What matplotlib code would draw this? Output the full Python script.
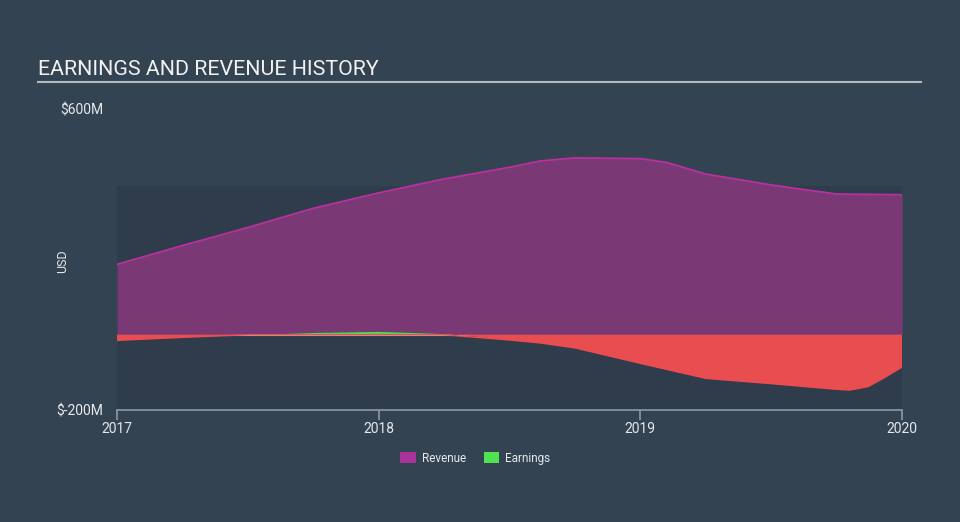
import matplotlib.pyplot as plt
from matplotlib.patches import Rectangle, Patch
import numpy as np

plt.rcParams['font.family'] = ['Roboto', 'DejaVu Sans']

# values in $M
rev_years = [2017.0, 2017.25, 2017.5, 2017.75, 2018.0, 2018.25, 2018.5, 2018.62,
             2018.75, 2019.0, 2019.1, 2019.25, 2019.5, 2019.75, 2020.0]
revenue = [187, 237, 285, 336, 377, 414, 445, 462, 470, 468, 458, 427, 398, 374, 372]

earn_years = [2017.0, 2017.25, 2017.5, 2017.75, 2018.0, 2018.25, 2018.5, 2018.62,
              2018.75, 2019.0, 2019.25, 2019.5, 2019.75, 2019.8, 2019.87, 2019.93, 2020.0]
earnings = [-15, -7, 0, 6, 9, 3, -14, -22, -35, -76, -116, -130, -145, -147, -138, -115, -86]

year_ticks = [2017, 2018, 2019, 2020]

bg = '#344352'
fig = plt.figure(figsize=(9.6, 5.22), dpi=100, facecolor=bg)
ax = fig.add_axes([0.1219, 0.2146, 0.8177, 0.5766])
ax.set_facecolor(bg)

ax.set_xlim(2017, 2020)
ax.set_ylim(-200, 600)

# darker plot band
ax.add_patch(Rectangle((2017, -200), 3, 596, facecolor='#2e3c4b', edgecolor='none', zorder=0))

ax.fill_between(rev_years, 0, revenue, color='#7a3874', lw=0, zorder=2)
ax.plot(rev_years, revenue, color='#b8329f', lw=1.3, zorder=3)

ax.plot([2017, 2020], [0, 0], color='#b9b9b9', lw=0.8, zorder=3)

e = np.array(earnings)
ax.fill_between(earn_years, 0, e, where=e >= 0, interpolate=True, color='#4cd94c', lw=0, zorder=4)
ax.fill_between(earn_years, 0, e, where=e <= 0, interpolate=True, color='#e84d50', lw=0, zorder=4)
ax.plot(earn_years, np.minimum(e, 0), color='#f04b55', lw=1.0, zorder=5)

for s in ['top', 'right', 'left']:
    ax.spines[s].set_visible(False)
ax.spines['bottom'].set_color('#8d99a6')
ax.spines['bottom'].set_linewidth(1.2)

ax.set_xticks(year_ticks)
ax.set_xticklabels([str(y) for y in year_ticks])
ax.tick_params(axis='x', colors='#8d99a6', length=7, width=1.2, labelcolor='#e6e8ea',
               labelsize=10, pad=2)
ax.set_yticks([600, -200])
ax.set_yticklabels(['$600M', '$-200M'])
ax.tick_params(axis='y', length=0, labelcolor='#e6e8ea', labelsize=10, pad=10)

fig.text(0.065, 0.50, 'USD', rotation=90, color='#e6e8ea', fontsize=9, ha='center', va='center')

fig.text(0.040, 0.856, 'EARNINGS AND REVENUE HISTORY', color='#f2f2f2', fontsize=15.4,
         ha='left', va='baseline')
fig.add_artist(plt.Line2D([0.040, 0.959], [0.843, 0.843], color='#b4b8bd', lw=1.5))

handles = [Patch(facecolor='#a8349a', label='Revenue'),
           Patch(facecolor='#4fe34f', label='Earnings')]
leg = fig.legend(handles=handles, loc='center', bbox_to_anchor=(0.495, 0.122), ncol=2,
                 frameon=False, fontsize=8.5, handlelength=1.3, handleheight=1.0,
                 columnspacing=1.5, handletextpad=0.5)
for t in leg.get_texts():
    t.set_color('#e6e8ea')

fig.savefig('out.png', dpi=100, facecolor=bg)
